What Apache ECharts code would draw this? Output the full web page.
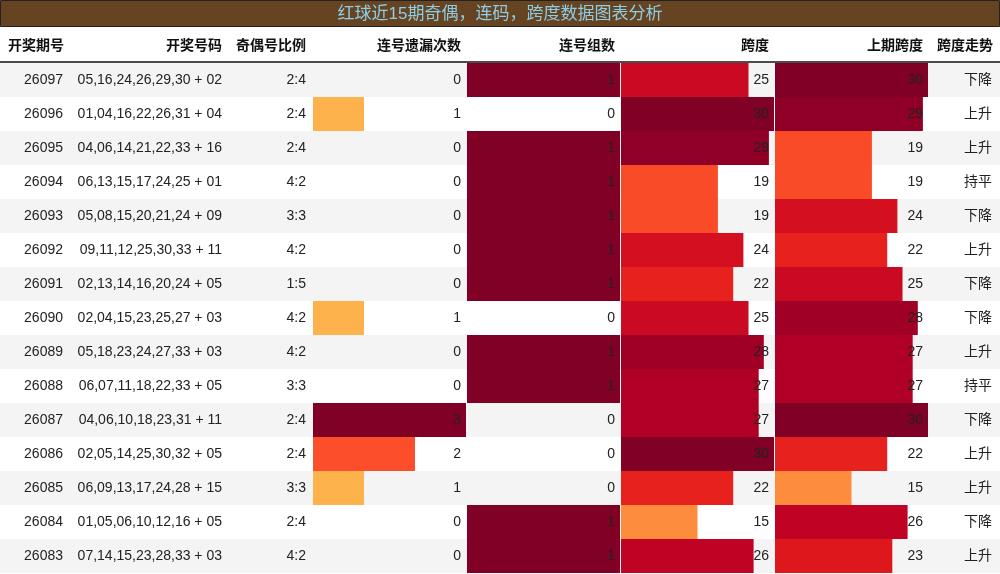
<!DOCTYPE html>
<html>
<head>
<meta charset="utf-8">
<script src="https://cdn.jsdelivr.net/npm/echarts@6/dist/echarts.min.js"></script>
<style>html,body{margin:0;padding:0;background:#fff}#main{width:1000px;height:574px}</style>
</head>
<body>
<div id="main"></div>
<script>
// 数据
var issues = ['26097','26096','26095','26094','26093','26092','26091','26090','26089','26088','26087','26086','26085','26084','26083'];
var numbers = ['05,16,24,26,29,30 + 02','01,04,16,22,26,31 + 04','04,06,14,21,22,33 + 16','06,13,15,17,24,25 + 01','05,08,15,20,21,24 + 09',
    '09,11,12,25,30,33 + 11','02,13,14,16,20,24 + 05','02,04,15,23,25,27 + 03','05,18,23,24,27,33 + 03','06,07,11,18,22,33 + 05',
    '04,06,10,18,23,31 + 11','02,05,14,25,30,32 + 05','06,09,13,17,24,28 + 15','01,05,06,10,12,16 + 05','07,14,15,23,28,33 + 03'];
var ratios = ['2:4','2:4','2:4','4:2','3:3','4:2','1:5','4:2','4:2','3:3','2:4','2:4','3:3','2:4','4:2'];
var missCount = [0,1,0,0,0,0,0,1,0,0,3,2,1,0,0];
var groupCount = [1,0,1,1,1,1,1,0,1,1,0,0,0,1,1];
var span = [25,30,29,19,19,24,22,25,28,27,27,30,22,15,26];
var lastSpan = [30,29,19,19,24,22,25,28,27,27,30,22,15,26,23];
var trend = ['下降','上升','上升','持平','下降','上升','下降','下降','上升','持平','下降','上升','上升','下降','上升'];
var headers = ['开奖期号','开奖号码','奇偶号比例','连号遗漏次数','连号组数','跨度','上期跨度','跨度走势'];

var TOP = 63, H = 510;
var font = '"Liberation Sans","Noto Sans CJK SC",sans-serif';
var textCols = [issues, numbers, ratios, trend];
var textRight = [63, 222, 306, 992];
var barCols = [
    {data: missCount, left: 313, max: 3, colors: ['#feb24c','#fc4e2a','#800026'], lo: 1},
    {data: groupCount, left: 467, max: 1, colors: ['#800026','#800026'], lo: 0},
    {data: span, left: 621, max: 30, colors: ['#fd8d3c','#fc4e2a','#e31a1c','#bd0026','#800026'], lo: 15},
    {data: lastSpan, left: 775, max: 30, colors: ['#fd8d3c','#fc4e2a','#e31a1c','#bd0026','#800026'], lo: 15}
];

var grids = [], xAxes = [], yAxes = [], series = [];
function addGrid(left, width, max, yOpt) {
    var i = grids.length;
    grids.push({left: left, top: TOP, width: width, height: H});
    xAxes.push({type: 'value', gridIndex: i, min: 0, max: max, show: false});
    yAxes.push(Object.assign({type: 'category', gridIndex: i, inverse: true, data: issues,
        axisLine: {show: false}, axisTick: {show: false}, axisLabel: {show: false}, splitLine: {show: false}}, yOpt || {}));
    return i;
}
// 背景斑马纹
addGrid(0, 1000, 1, {splitArea: {show: true, areaStyle: {color: ['#f4f4f4', '#ffffff']}}});
// 文本列
textCols.forEach(function (col, k) {
    addGrid(textRight[k], 1, 1, {data: col, axisLabel: {show: true, margin: 0, color: '#222', fontSize: 14, fontFamily: font}});
});
// 柱状列
barCols.forEach(function (c) {
    var g = addGrid(c.left, 153, c.max);
    series.push({
        type: 'bar', xAxisIndex: g, yAxisIndex: g, barWidth: '100%', barGap: '-100%', silent: true,
        data: c.data.map(function (v) {
            var t = c.max === c.lo ? 1 : (v - c.lo) / (c.max - c.lo);
            return {value: v, itemStyle: {color: echarts.color.lerp(Math.max(0, Math.min(1, t)), c.colors)}};
        })
    });
    series.push({
        type: 'bar', xAxisIndex: g, yAxisIndex: g, barWidth: '100%', barGap: '-100%', silent: true,
        itemStyle: {color: 'rgba(0,0,0,0)'},
        label: {show: true, position: 'insideRight', distance: 5, color: '#222', fontSize: 14, fontFamily: font,
            formatter: function (p) { return c.data[p.dataIndex]; }},
        data: c.data.map(function () { return c.max; })
    });
});

var headRight = [null, 222, 306, 461, 615, 769, 923, 993];
var graphic = [
    {type: 'rect', shape: {x: 0.5, y: 0.5, width: 999, height: 26}, style: {fill: '#664422', stroke: '#222', lineWidth: 1}},
    {type: 'text', x: 500, y: 14, style: {text: '红球近15期奇偶，连码，跨度数据图表分析', fill: '#8ecde8', fontSize: 17,
        fontFamily: font, align: 'center', verticalAlign: 'middle'}},
    {type: 'line', shape: {x1: 0, y1: 62, x2: 1000, y2: 62}, style: {stroke: '#111', lineWidth: 1.5}}
];
headers.forEach(function (h, k) {
    graphic.push({type: 'text', x: k === 0 ? 8 : headRight[k], y: 46, style: {text: h, fill: '#111', fontSize: 14,
        fontWeight: 'bold', fontFamily: font, align: k === 0 ? 'left' : 'right', verticalAlign: 'middle'}});
});

var chart = echarts.init(document.getElementById('main'));
chart.setOption({
    animation: false,
    backgroundColor: '#fff',
    grid: grids, xAxis: xAxes, yAxis: yAxes, series: series,
    graphic: graphic
});
</script>
</body>
</html>
